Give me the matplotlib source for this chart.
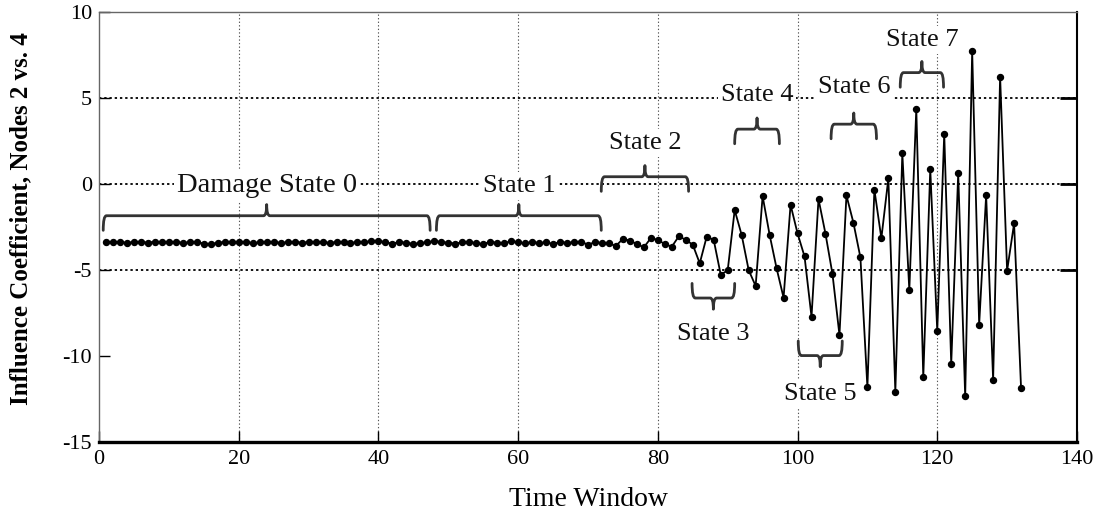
import numpy as np
import matplotlib
matplotlib.use("Agg")
import matplotlib.pyplot as plt
from matplotlib.path import Path
from matplotlib.patches import PathPatch
from matplotlib.transforms import blended_transform_factory

plt.rcParams['font.family'] = ['Liberation Serif', 'DejaVu Serif']
plt.rcParams['axes.unicode_minus'] = False

# Time windows and the measured influence coefficient (nodes 2 vs. 4)
time_window = list(range(1, 133))
influence = [
    -3.35, -3.38, -3.36, -3.40, -3.37, -3.36, -3.39, -3.35, -3.38, -3.37,
    -3.36, -3.40, -3.38, -3.36, -3.45, -3.48, -3.40, -3.36, -3.38, -3.37,
    -3.35, -3.42, -3.38, -3.36, -3.37, -3.40, -3.38, -3.36, -3.39, -3.37,
    -3.36, -3.38, -3.40, -3.37, -3.35, -3.42, -3.36, -3.38, -3.30, -3.28,
    -3.38, -3.45, -3.36, -3.40, -3.47, -3.42, -3.38, -3.30, -3.36, -3.40,
    -3.45, -3.38, -3.36, -3.42, -3.48, -3.35, -3.40, -3.44, -3.30, -3.38,
    -3.44, -3.35, -3.42, -3.38, -3.47, -3.36, -3.40, -3.38,
    -3.33, -3.52, -3.36, -3.42, -3.44, -3.59, -3.17, -3.28, -3.48, -3.67,
    -3.13, -3.24, -3.48, -3.63, -3.03, -3.23, -3.52, -4.60, -3.04, -3.24,
    -5.26, -5.01, -1.50, -2.95, -4.99, -5.92, -0.69, -2.94, -4.89, -6.60,
    -1.19, -2.86, -4.20, -7.71, -0.86, -2.88, -5.22, -8.77, -0.65, -2.24,
    -4.26, -11.81, -0.32, -3.14, 0.34, -12.08, 1.81, -6.15, 4.39, -11.23,
    0.88, -8.54, 2.94, -10.46, 0.63, -12.35, 7.75, -8.17, -0.63, -11.38,
    6.27, -5.03, -2.28, -11.87,
]

# Damage states: label, span start, span end, brace level, label level
state_labels = ["Damage State 0", "State 1", "State 2", "State 3",
                "State 4", "State 5", "State 6", "State 7"]
state_start = [0.6, 48.3, 71.9, 84.9, 91.0, 100.1, 104.8, 114.7]
state_end = [47.4, 71.9, 84.4, 91.0, 97.4, 106.4, 111.3, 120.9]
state_level = [-1.83, -1.83, 0.44, -6.62, 3.21, -9.97, 3.50, 6.50]
state_text_y = [-0.09, -0.09, 2.41, -8.71, 5.20, -12.20, 5.67, 8.42]
state_below = [False, False, False, True, False, True, False, False]
state_fontsize = [20.5, 19, 19, 19, 19, 19, 19, 19]

x_ticks = [0, 20, 40, 60, 80, 100, 120, 140]
y_ticks = [-15, -10, -5, 0, 5, 10]
h_grid = [-5, 0, 5]


def draw_brace(ax, x0, x1, y, below, color="#333333"):
    """Curly brace spanning x0..x1 at level y; tip points away from the data."""
    s = -1.0 if below else 1.0
    arm = 0.85 * s     # ends bend towards the data
    tip = 0.65 * s     # centre point goes the other way
    r = 0.45
    xm = 0.5 * (x0 + x1)
    verts = [
        (x0, y - arm), (x0, y), (x0 + r, y),
        (xm - r, y),
        (xm, y), (xm, y + tip),
        (xm, y), (xm + r, y),
        (x1 - r, y),
        (x1, y), (x1, y - arm),
    ]
    codes = [Path.MOVETO, Path.CURVE3, Path.CURVE3,
             Path.LINETO,
             Path.CURVE3, Path.CURVE3,
             Path.CURVE3, Path.CURVE3,
             Path.LINETO,
             Path.CURVE3, Path.CURVE3]
    ax.add_patch(PathPatch(Path(verts, codes), fill=False, edgecolor=color,
                           lw=2.0, capstyle="round", joinstyle="round", zorder=3))


fig = plt.figure(figsize=(11.04, 5.27), dpi=100)
ax = fig.add_axes([0.0897, 0.1613, 0.8858, 0.815])

ax.set_xlim(0, 140)
ax.set_ylim(-15, 10)
ax.set_xticks(x_ticks)
ax.set_yticks(y_ticks)

# grid: light dotted verticals, darker dotted horizontals
for xv in x_ticks[1:-1]:
    ax.axvline(xv, color="#555555", lw=0.8, ls=(0, (1.2, 2.0)), zorder=1)
for yv in h_grid:
    ax.axhline(yv, color="black", lw=1.3, ls=(0, (1.3, 1.6)), zorder=1)
    ax.plot([0.983, 1.0], [yv, yv], color="black", lw=2.0,
            transform=blended_transform_factory(ax.transAxes, ax.transData),
            zorder=2, solid_capstyle="butt")

ax.plot(time_window, influence, color="black", lw=1.3, marker="o",
        markersize=4.3, zorder=4)

for lab, xa, xb, yl, yt, below, fs in zip(state_labels, state_start, state_end,
                                          state_level, state_text_y,
                                          state_below, state_fontsize):
    draw_brace(ax, xa, xb, yl, below)
    ax.text(0.5 * (xa + xb), yt, lab, ha="center", va="center", fontsize=fs,
            color="#111111", zorder=2,
            bbox=dict(facecolor="white", edgecolor="none", pad=2.0))

ax.tick_params(axis="both", direction="in", length=8, width=1.0,
               labelsize=16, colors="black")
ax.tick_params(axis="x", pad=6)
ax.tick_params(axis="y", pad=5)

for side in ("left", "top"):
    ax.spines[side].set_color("#666666")
    ax.spines[side].set_linewidth(1.0)
ax.spines["bottom"].set_color("black")
ax.spines["bottom"].set_linewidth(2.4)
ax.spines["right"].set_color("black")
ax.spines["right"].set_linewidth(1.5)

ax.set_xlabel("Time Window", fontsize=20)
ax.xaxis.set_label_coords(0.5, -0.105)
ax.set_ylabel("Influence Coefficient, Nodes 2 vs. 4", fontsize=18,
              fontweight="bold")
ax.yaxis.set_label_coords(-0.068, 0.521)

fig.savefig("out.png", dpi=100)
